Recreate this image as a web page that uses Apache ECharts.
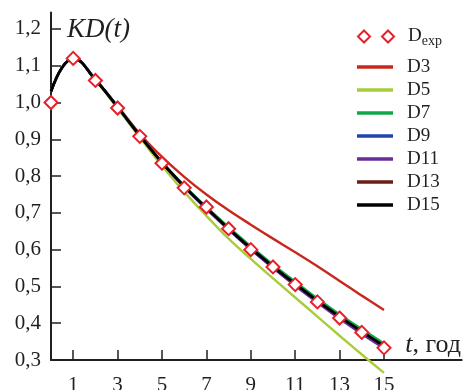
<!DOCTYPE html>
<html>
<head>
<meta charset="utf-8">
<script src="https://cdn.jsdelivr.net/npm/echarts@6/dist/echarts.min.js"></script>
<style>
  html, body {margin: 0; padding: 0; background: #fff;}
  #chart {width: 465px; height: 390px;}
</style>
</head>
<body>
<div id="chart"></div>
<script>
// time points (years)
const tExp = [0, 1, 2, 3, 4, 5, 6, 7, 8, 9, 10, 11, 12, 13, 14, 15];
const tCurve = [0, 0.5, 1, 2, 3, 4, 5, 6, 7, 8, 9, 10, 11, 12, 13, 14, 15];

// experimental points
const dExp = [1.0, 1.12, 1.06, 0.985, 0.908, 0.835, 0.768, 0.716, 0.657, 0.6, 0.553, 0.505, 0.458, 0.414, 0.375, 0.333];

// approximations
const d3  = [1.03, 1.095, 1.12, 1.062, 0.99, 0.915, 0.852, 0.798, 0.75, 0.707, 0.668, 0.63, 0.593, 0.555, 0.515, 0.475, 0.436];
const d5  = [1.03, 1.095, 1.12, 1.06, 0.984, 0.905, 0.828, 0.757, 0.692, 0.63, 0.575, 0.522, 0.47, 0.418, 0.366, 0.315, 0.265];
const d7  = [1.03, 1.095, 1.12, 1.062, 0.988, 0.91, 0.838, 0.774, 0.716, 0.661, 0.609, 0.559, 0.513, 0.467, 0.424, 0.384, 0.345];
const d9  = [1.03, 1.095, 1.12, 1.062, 0.988, 0.91, 0.837, 0.772, 0.713, 0.657, 0.604, 0.554, 0.507, 0.461, 0.418, 0.377, 0.338];
const d11 = [1.03, 1.095, 1.12, 1.062, 0.987, 0.909, 0.836, 0.77, 0.71, 0.654, 0.6, 0.55, 0.502, 0.456, 0.412, 0.371, 0.332];
const d13 = [1.03, 1.095, 1.12, 1.062, 0.988, 0.91, 0.837, 0.772, 0.713, 0.657, 0.604, 0.554, 0.507, 0.461, 0.418, 0.377, 0.338];
const d15 = [1.03, 1.095, 1.12, 1.062, 0.988, 0.91, 0.837, 0.772, 0.713, 0.657, 0.604, 0.554, 0.507, 0.461, 0.418, 0.377, 0.338];

const xTicks = [1, 3, 5, 7, 9, 11, 13, 15];
const yTicks = [0.3, 0.4, 0.5, 0.6, 0.7, 0.8, 0.9, 1.0, 1.1, 1.2];

const ink = '#231f20';
const serif = 'Liberation Serif';

const curves = [
  {name: 'D3', data: d3, color: '#c8281c'},
  {name: 'D5', data: d5, color: '#a9cc3a'},
  {name: 'D13', data: d13, color: '#6b1d14'},
  {name: 'D7', data: d7, color: '#12a64a'},
  {name: 'D9', data: d9, color: '#2443a8'},
  {name: 'D11', data: d11, color: '#6a2c9c'},
  {name: 'D15', data: d15, color: '#000000'}
];

const linePath = 'path://M0,0H36V3.6H0Z';
const diamondsPath = 'path://M5.5,0L11,5.5L5.5,11L0,5.5Z M27.5,0L33,5.5L27.5,11L22,5.5Z';

const legendText = {
  color: ink,
  fontFamily: serif,
  fontSize: 19,
  lineHeight: 20,
  padding: [0, 0, 0, 9],
  rich: {
    m: {fontFamily: serif, fontSize: 19, color: ink, lineHeight: 20},
    s: {fontFamily: serif, fontSize: 14, color: ink, lineHeight: 20, padding: [9, 0, 0, 0]}
  }
};

const chart = echarts.init(document.getElementById('chart'));
chart.setOption({
  animation: false,
  backgroundColor: '#fff',
  textStyle: {fontFamily: serif},
  grid: {left: 51, right: 3.3, top: 12.4, bottom: 30, containLabel: false, outerBoundsMode: 'none'},
  xAxis: {
    type: 'value',
    min: 0,
    max: 18.5,
    splitLine: {show: false},
    axisLine: {lineStyle: {color: ink, width: 2}},
    axisTick: {inside: true, length: 10, customValues: xTicks, lineStyle: {color: ink, width: 1.5}},
    axisLabel: {customValues: xTicks, margin: 15, color: ink, fontFamily: serif, fontSize: 21}
  },
  yAxis: {
    type: 'value',
    min: 0.3,
    max: 1.245,
    splitLine: {show: false},
    axisLine: {lineStyle: {color: ink, width: 2}},
    axisTick: {inside: true, length: 10, customValues: yTicks, lineStyle: {color: ink, width: 1.5}},
    axisLabel: {
      customValues: yTicks,
      margin: 10,
      color: ink,
      fontFamily: serif,
      fontSize: 21,
      formatter: v => v.toFixed(1).replace('.', ',')
    }
  },
  legend: [
    {
      left: 352,
      top: 20,
      itemWidth: 36,
      itemHeight: 12,
      symbolKeepAspect: true,
      data: [{name: 'Dexp', icon: diamondsPath}],
      formatter: () => '{m|D}{s|exp}',
      textStyle: legendText
    },
    {
      orient: 'vertical',
      left: 352,
      top: 52,
      itemWidth: 36,
      itemHeight: 12,
      itemGap: 3,
      symbolKeepAspect: true,
      data: ['D3', 'D5', 'D7', 'D9', 'D11', 'D13', 'D15'].map(n => ({name: n, icon: linePath, itemStyle: {borderWidth: 0}})),
      textStyle: legendText
    }
  ],
  graphic: [
    {
      type: 'text', left: 67, top: 16,
      style: {text: 'KD(t)', fontFamily: serif, fontStyle: 'italic', fontSize: 27, fill: ink}
    },
    {
      type: 'text', right: 4, top: 332,
      style: {
        text: '{i|t}, год',
        fontFamily: serif,
        fontSize: 26,
        fill: ink,
        rich: {i: {fontStyle: 'italic', fontFamily: serif, fontSize: 26, fill: ink}}
      }
    }
  ],
  series: [
    ...curves.map(c => ({
      name: c.name,
      type: 'line',
      data: tCurve.map((t, i) => [t, c.data[i]]),
      smooth: 0.4,
      symbol: 'none',
      clip: false,
      color: c.color,
      lineStyle: {color: c.color, width: c.name === 'D15' ? 2.8 : 2.4}
    })),
    {
      name: 'Dexp',
      type: 'line',
      data: tExp.map((t, i) => [t, dExp[i]]),
      symbol: 'diamond',
      symbolSize: 13,
      lineStyle: {width: 0, opacity: 0},
      itemStyle: {color: '#ffffff', borderColor: '#e5202a', borderWidth: 2},
      z: 5
    }
  ]
});
</script>
</body>
</html>
